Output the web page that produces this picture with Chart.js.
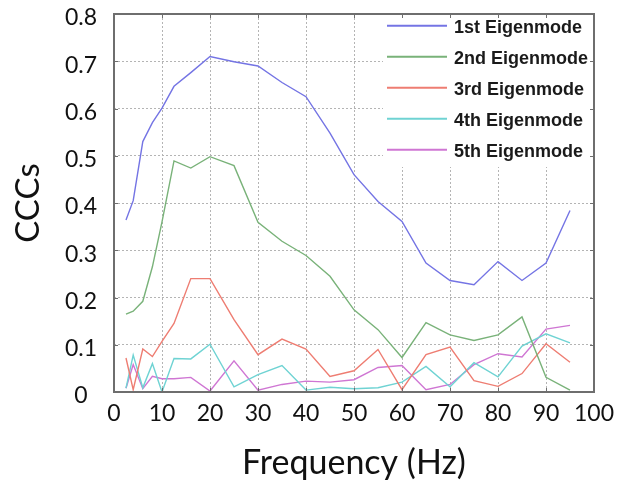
<!DOCTYPE html>
<html>
<head>
<meta charset="utf-8">
<script src="https://cdn.jsdelivr.net/npm/chart.js@4"></script>
<style>
  html, body { margin: 0; padding: 0; background: #ffffff; }
  #wrap { width: 619px; height: 486px; }
</style>
</head>
<body>
<div id="wrap"><canvas id="c" width="619" height="486"></canvas></div>
<script>
// ---- data ----
const frequencies = [2.5, 4, 6, 8, 10, 12.5, 16, 20, 25, 30, 35, 40, 45, 50, 55, 60, 65, 70, 75, 80, 85, 90, 95];
const mode1 = [0.364, 0.405, 0.530, 0.570, 0.601, 0.647, 0.676, 0.710, 0.699, 0.690, 0.655, 0.625, 0.548, 0.460, 0.403, 0.361, 0.273, 0.236, 0.227, 0.276, 0.236, 0.273, 0.384];
const mode2 = [0.165, 0.171, 0.192, 0.265, 0.360, 0.489, 0.474, 0.498, 0.479, 0.359, 0.319, 0.289, 0.245, 0.174, 0.132, 0.073, 0.147, 0.121, 0.109, 0.121, 0.159, 0.031, 0.004];
const mode3 = [0.072, 0.005, 0.091, 0.075, 0.107, 0.145, 0.240, 0.240, 0.153, 0.079, 0.112, 0.091, 0.033, 0.045, 0.090, 0.005, 0.079, 0.095, 0.024, 0.012, 0.039, 0.102, 0.063];
const mode4 = [0.008, 0.078, 0.009, 0.060, 0.000, 0.071, 0.070, 0.101, 0.011, 0.037, 0.056, 0.004, 0.010, 0.007, 0.009, 0.021, 0.054, 0.011, 0.062, 0.032, 0.097, 0.123, 0.104];
const mode5 = [0.008, 0.058, 0.007, 0.033, 0.028, 0.028, 0.031, 0.002, 0.066, 0.004, 0.016, 0.023, 0.021, 0.026, 0.052, 0.056, 0.005, 0.016, 0.058, 0.081, 0.074, 0.133, 0.141];
const seriesLabels = ['1st Eigenmode', '2nd Eigenmode', '3rd Eigenmode', '4th Eigenmode', '5th Eigenmode'];
const xTickLabels = ['0', '10', '20', '30', '40', '50', '60', '70', '80', '90', '100'];
const yTickLabels = ['0', '0.1', '0.2', '0.3', '0.4', '0.5', '0.6', '0.7', '0.8'];
const xTitle = 'Frequency (Hz)';
const yTitle = 'CCCs';

// ---- styles ----
const seriesColors = ['#7474e4', '#79b279', '#ee7d72', '#6fd3d3', '#cf76d3'];
const allSeries = [mode1, mode2, mode3, mode4, mode5];

const datasets = allSeries.map((vals, i) => ({
  label: seriesLabels[i],
  data: frequencies.map((f, j) => ({ x: f, y: vals[j] })),
  borderColor: seriesColors[i],
  backgroundColor: seriesColors[i],
  borderWidth: 1.4,
  pointRadius: 0,
  tension: 0,
  fill: false
}));

const frameAndLegend = {
  id: 'frameAndLegend',
  beforeDatasetsDraw(chart) {
    const ctx = chart.ctx;
    const ca = chart.chartArea;
    ctx.save();
    ctx.fillStyle = '#ffffff';
    ctx.fillRect(383, ca.top + 1, ca.right - 1 - 383, 152);
    ctx.font = 'bold 18px "Liberation Sans", Arial, sans-serif';
    ctx.textBaseline = 'middle';
    ctx.textAlign = 'left';
    chart.data.datasets.forEach((ds, i) => {
      const y = 25.7 + 31 * i;
      ctx.strokeStyle = ds.borderColor;
      ctx.lineWidth = 2;
      ctx.beginPath();
      ctx.moveTo(387, y);
      ctx.lineTo(447, y);
      ctx.stroke();
      ctx.fillStyle = '#1a1a1a';
      ctx.fillText(ds.label, 454, y + 2);
    });
    ctx.restore();
  },
  afterDraw(chart) {
    const ctx = chart.ctx;
    const ca = chart.chartArea;
    const xs = chart.scales.x, ys = chart.scales.y;
    ctx.save();
    ctx.setLineDash([]);
    ctx.strokeStyle = '#6e6e6e';
    ctx.lineWidth = 2;
    ctx.strokeRect(ca.left, ca.top, ca.right - ca.left, ca.bottom - ca.top);
    ctx.lineWidth = 1;
    ctx.beginPath();
    xs.ticks.forEach(t => {
      const px = Math.round(xs.getPixelForValue(t.value)) + 0.5;
      ctx.moveTo(px, ca.top); ctx.lineTo(px, ca.top + 4);
      ctx.moveTo(px, ca.bottom); ctx.lineTo(px, ca.bottom - 4);
    });
    ys.ticks.forEach(t => {
      const py = Math.round(ys.getPixelForValue(t.value)) + 0.5;
      ctx.moveTo(ca.left, py); ctx.lineTo(ca.left + 4, py);
      ctx.moveTo(ca.right, py); ctx.lineTo(ca.right - 4, py);
    });
    ctx.stroke();
    ctx.restore();
  }
};

new Chart(document.getElementById('c'), {
  type: 'line',
  data: { datasets },
  plugins: [frameAndLegend],
  options: {
    responsive: false,
    animation: false,
    devicePixelRatio: 1,
    layout: { padding: { left: 0, right: 25, top: 14, bottom: 0 } },
    plugins: { legend: { display: false }, tooltip: { enabled: false } },
    scales: {
      x: {
        type: 'linear',
        min: 0, max: 100,
        afterFit(scale) { scale.height = 94; scale.paddingLeft = 0; scale.paddingRight = 0; },
        ticks: {
          stepSize: 10,
          color: '#111111',
          font: { family: 'Lato', size: 23 },
          padding: 8,
          maxRotation: 0,
          callback: (v, i) => xTickLabels[i]
        },
        grid: { color: '#b4b4b4', lineWidth: 1, drawTicks: false },
        border: { display: false, dash: [2, 2] },
        title: {
          display: true, text: xTitle, color: '#111111',
          font: { family: 'Lato', size: 34 },
          padding: { top: 0, bottom: 3 }
        }
      },
      y: {
        type: 'linear',
        min: 0, max: 0.8,
        afterFit(scale) { scale.width = 114; scale.paddingTop = 0; scale.paddingBottom = 0; },
        ticks: {
          stepSize: 0.1,
          color: '#111111',
          font: { family: 'Lato', size: 23 },
          padding: 17,
          crossAlign: 'center',
          labelOffset: 4,
          callback: (v, i) => yTickLabels[i]
        },
        grid: { color: '#b4b4b4', lineWidth: 1, drawTicks: false },
        border: { display: false, dash: [2, 2] },
        title: {
          display: true, text: yTitle, color: '#111111',
          font: { family: 'Lato', size: 33 },
          padding: { top: 9, bottom: 0 }
        }
      }
    }
  }
});
</script>
</body>
</html>
